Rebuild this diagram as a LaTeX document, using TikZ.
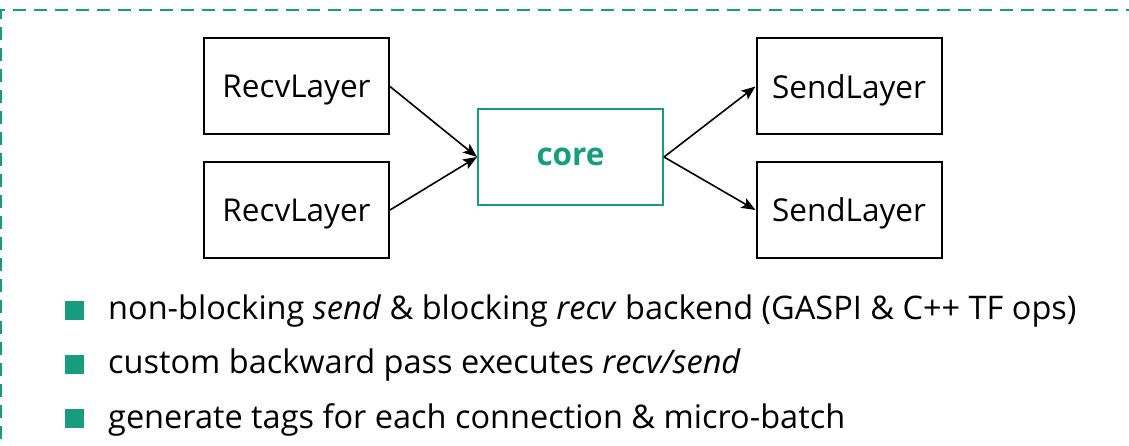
\documentclass[tikz,border=0pt]{standalone}
\usepackage{fontspec}
\setmainfont{Open Sans}
\usetikzlibrary{arrows.meta}
\definecolor{fhgreen}{RGB}{23,156,125}
\begin{document}
\begin{tikzpicture}[x=1pt,y=-1pt,
  layerbox/.style={draw=black,line width=2pt,minimum width=185pt,minimum height=96pt,inner sep=0pt,text depth=0pt,font=\fontsize{31.5}{36}\selectfont},
  corebox/.style={draw=fhgreen,line width=2pt,minimum width=185pt,minimum height=96pt,inner sep=0pt,text=fhgreen,font=\fontsize{31.5}{36}\selectfont\bfseries},
  link/.style={line width=1.6pt,-{Stealth[length=14pt,width=11pt,inset=3pt]}},
  bulletsq/.style={fill=fhgreen,minimum size=19pt,inner sep=0pt},
  item/.style={anchor=west,inner sep=0pt,font=\fontsize{32.5}{38}\selectfont}]
\useasboundingbox (0,0) rectangle (1129,446);
% dashed frame around the content
\draw[fhgreen,line width=1.3pt,dash pattern=on 13pt off 8pt] (1,460) -- (1,10) -- (1140,10);
% layer boxes
\node[layerbox] (r1) at (296.5,86.5) {RecvLayer};
\node[layerbox] (r2) at (296.5,210) {RecvLayer};
\node[corebox] (core) at (570.5,157) {core};
\node[layerbox] (s1) at (849,86.5) {SendLayer};
\node[layerbox] (s2) at (849,210) {SendLayer};
% connections
\draw[link] (r1.east) -- (core.west);
\draw[link] (r2.east) -- (core.west);
\draw[link] (core.east) -- (s1.west);
\draw[link] (core.east) -- (s2.west);
% bullet list
\node[bulletsq] (b1) at (74.5,310) {};
\node[bulletsq] (b2) at (74.5,364.5) {};
\node[bulletsq] (b3) at (74.5,418.5) {};
\node[item] (t1) at (108,311) {non-blocking \textit{send} \& blocking \textit{recv} backend (GASPI \& C++ TF ops)};
\node[item] (t2) at (108,365.5) {custom backward pass executes \textit{recv/send}};
\node[item] (t3) at (108,419.5) {generate tags for each connection \& micro-batch};
\end{tikzpicture}
\end{document}
